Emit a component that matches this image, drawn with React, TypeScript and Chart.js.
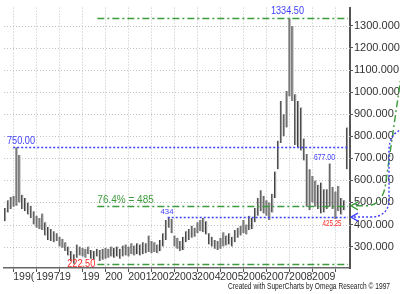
import React, { useEffect, useRef } from 'react';
import { Chart, registerables } from 'chart.js';

Chart.register(...registerables);

// ---------- data ----------
const START_YEAR = 1995.65;
const BAR_STEP = 0.125;

const HIGHS = [
  475, 510, 525, 530, 750, 715, 535, 520, 500, 485,
  460, 440, 430, 450, 410, 390, 380, 370, 360, 345,
  335, 320, 300, 280, 265, 310, 300, 295, 290, 300,
  285, 280, 290, 285, 290, 295, 290, 300, 295, 300,
  290, 305, 310, 300, 315, 305, 315, 310, 320, 315,
  350, 325, 320, 310, 330, 360, 420, 434, 425, 350,
  340, 325, 345, 370, 380, 395, 385, 410, 420, 430,
  415, 360, 345, 330, 325, 340, 365, 350, 360, 345,
  375, 385, 395, 420, 400, 440, 430, 475, 520, 555,
  530, 510, 500, 540, 640, 780, 960, 900, 1005, 1334.5,
  1300, 990, 960, 930, 790, 720, 650, 620, 600, 580,
  590, 560, 560, 677, 570, 550, 575, 520, 510, 840,
];
const LOWS = [
  415, 455, 470, 480, 485, 500, 470, 460, 445, 430,
  400, 385, 380, 375, 350, 330, 325, 320, 325, 300,
  295, 280, 260, 235, 222.5, 250, 260, 255, 250, 265,
  245, 240, 255, 235, 240, 245, 250, 255, 250, 255,
  245, 255, 260, 255, 265, 260, 265, 260, 265, 270,
  275, 270, 275, 270, 280, 300, 330, 385, 360, 300,
  290, 280, 285, 320, 330, 340, 345, 360, 370, 365,
  355, 310, 300, 290, 285, 290, 300, 305, 310, 300,
  320, 340, 350, 360, 355, 375, 380, 410, 440, 460,
  450, 440, 420, 455, 520, 650, 770, 800, 840, 980,
  960, 760, 750, 735, 690, 480, 465, 500, 480, 470,
  450, 455, 470, 480, 470, 425.25, 460, 445, 465, 650,
];

const X_TICKS = [1996, 1997, 1998, 1999, 2000, 2001, 2002, 2003, 2004, 2005, 2006, 2007, 2008, 2009, 2010];
const X_LABELS = ['199(', '1997', '19', '199', '200', '2001', '2002', '2003', '2004', '2005', '2006', '2007', '2008', '2009', ''];
const Y_TICKS = [300, 400, 500, 600, 700, 800, 900, 1000, 1100, 1200, 1300];

// horizontal reference levels
const LEVELS = [1334.5, 750, 485, 434, 222.5];
const LEVEL_START_YEARS = [1999.66, 1996.0, 1999.66, 2002.72, 1999.66];
const LEVEL_KINDS = ['green', 'blue', 'green', 'blue', 'green'];

// text notes
const NOTE_TEXTS = ['1334.50', '750.00', '76.4% = 485', '434', '677.00', '425.25', '222.50'];
const NOTE_VALUES = [1334.5, 750, 485, 434, 677, 425.25, 222.5];
const NOTE_YEARS = [2007.93, 1995.73, 1999.66, 2002.69, 2009.54, 2009.87, 1998.96];

const FOOTER = 'Created with SuperCharts by Omega Research \u00A9 1997';

// ---------- styles ----------
const FONT = "'Liberation Sans', Arial, sans-serif";
const BLUE = '#4040ff';
const GREEN = '#3c9c3c';
const RED = '#ff2828';
const NOTE_STYLE = [
  { color: BLUE, size: 10, maxW: 33, align: 'center', dy: -7.5 },
  { color: BLUE, size: 10, maxW: 28, align: 'left', dy: -6.5 },
  { color: GREEN, size: 10, maxW: 58, align: 'left', dy: -5.5 },
  { color: BLUE, size: 8, maxW: 13, align: 'center', dy: -5.5 },
  { color: BLUE, size: 8.5, maxW: 21, align: 'center', dy: -6 },
  { color: RED, size: 8.5, maxW: 19, align: 'center', dy: 5 },
  { color: RED, size: 10.5, maxW: 28, align: 'center', dy: 0 },
];

function setLevelStyle(ctx: CanvasRenderingContext2D, kind: string) {
  if (kind === 'green') {
    ctx.strokeStyle = GREEN;
    ctx.lineWidth = 1.4;
    ctx.setLineDash([7, 3, 2, 3]);
  } else {
    ctx.strokeStyle = BLUE;
    ctx.lineWidth = 1.4;
    ctx.setLineDash([2, 2]);
  }
}

const overlay = {
  id: 'overlay',
  beforeDatasetsDraw(chart: any) {
    const { ctx, chartArea: a, scales } = chart;
    const x = scales.x, y = scales.y;
    ctx.save();
    ctx.strokeStyle = '#c2c2c2';
    ctx.lineWidth = 1;
    ctx.setLineDash([1, 2]);
    ctx.beginPath();
    X_TICKS.forEach((t) => {
      const px = Math.round(x.getPixelForValue(t)) + 0.5;
      ctx.moveTo(px, a.top);
      ctx.lineTo(px, a.bottom);
    });
    Y_TICKS.forEach((v) => {
      const py = Math.round(y.getPixelForValue(v)) + 0.5;
      ctx.moveTo(a.left, py);
      ctx.lineTo(a.right, py);
    });
    ctx.stroke();
    ctx.restore();
  },
  afterDatasetsDraw(chart: any) {
    const { ctx, chartArea: a, scales } = chart;
    const x = scales.x, y = scales.y;
    ctx.save();
    LEVELS.forEach((v, k) => {
      const py = Math.round(y.getPixelForValue(v)) + 0.5;
      const x0 = x.getPixelForValue(LEVEL_START_YEARS[k]);
      setLevelStyle(ctx, LEVEL_KINDS[k]);
      ctx.beginPath();
      ctx.moveTo(x0, py);
      ctx.lineTo(a.right - 2, py);
      ctx.stroke();
    });
    ctx.setLineDash([]);
    ctx.textBaseline = 'middle';
    NOTE_TEXTS.forEach((txt, k) => {
      const st = NOTE_STYLE[k];
      ctx.fillStyle = st.color;
      ctx.font = `${st.size}px ${FONT}`;
      ctx.textAlign = st.align as CanvasTextAlign;
      const px = x.getPixelForValue(NOTE_YEARS[k]);
      const py = y.getPixelForValue(NOTE_VALUES[k]) + st.dy;
      ctx.fillText(txt, px, py, st.maxW);
    });
    ctx.restore();
  },
  afterDraw(chart: any) {
    const { ctx, chartArea: a, scales } = chart;
    const y = scales.y;
    const R = a.right;
    ctx.save();
    // green curved arrow to 485 level
    const yG = y.getPixelForValue(LEVELS[2]);
    setLevelStyle(ctx, 'green');
    ctx.beginPath();
    ctx.moveTo(R + 54, yG - 150);
    ctx.lineTo(R + 35, yG - 18);
    ctx.quadraticCurveTo(R + 31, yG, R + 16, yG);
    ctx.lineTo(R + 3, yG);
    ctx.stroke();
    ctx.setLineDash([]);
    ctx.beginPath();
    ctx.moveTo(R + 8, yG - 4);
    ctx.lineTo(R + 1, yG);
    ctx.lineTo(R + 8, yG + 4);
    ctx.stroke();
    // blue curved arrow to 434 level
    const yB = y.getPixelForValue(LEVELS[3]);
    setLevelStyle(ctx, 'blue');
    ctx.beginPath();
    ctx.moveTo(R + 53, yB - 88);
    ctx.quadraticCurveTo(R + 39, yB - 84, R + 39, yB - 66);
    ctx.lineTo(R + 39, yB - 18);
    ctx.quadraticCurveTo(R + 39, yB, R + 20, yB);
    ctx.lineTo(R + 3, yB);
    ctx.stroke();
    ctx.setLineDash([]);
    ctx.beginPath();
    ctx.moveTo(R + 8, yB - 4);
    ctx.lineTo(R + 1, yB);
    ctx.lineTo(R + 8, yB + 4);
    ctx.stroke();
    // footer
    ctx.fillStyle = '#222';
    ctx.font = `9px ${FONT}`;
    ctx.textAlign = 'left';
    ctx.textBaseline = 'middle';
    ctx.fillText(FOOTER, 228, 287, 162);
    ctx.restore();
  },
};

export default function App() {
  const ref = useRef<HTMLCanvasElement | null>(null);

  useEffect(() => {
    if (!ref.current) return;
    const chart = new Chart(ref.current, {
      type: 'bar',
      data: {
        datasets: [
          {
            data: HIGHS.map((h, i) => ({ x: START_YEAR + i * BAR_STEP, y: [LOWS[i], h] })) as any,
            backgroundColor: '#9a9a9a',
            borderColor: '#3c3c3c',
            borderWidth: { left: 1, right: 0, top: 0, bottom: 0 },
            borderSkipped: false,
            barThickness: 2,
          },
        ],
      },
      options: {
        animation: false,
        responsive: false,
        events: [],
        layout: { padding: { left: 4, top: 6, right: 0, bottom: 0 } },
        plugins: { legend: { display: false }, tooltip: { enabled: false } },
        scales: {
          x: {
            type: 'linear',
            min: 1995.6,
            max: 2010.65,
            offset: false,
            afterBuildTicks: (s: any) => {
              s.ticks = X_TICKS.map((v) => ({ value: v }));
            },
            afterFit: (s: any) => {
              s.height = 26;
            },
            grid: { drawOnChartArea: false, offset: false, drawTicks: true, tickLength: 4, tickColor: '#555', tickWidth: 1 },
            border: { display: true, color: '#666', width: 1.5 },
            ticks: {
              autoSkip: false,
              maxRotation: 0,
              minRotation: 0,
              align: 'start',
              padding: -1,
              color: '#333',
              font: { family: FONT, size: 10.5 },
              callback: (_v: any, idx: number) => X_LABELS[idx],
            },
          },
          y: {
            position: 'right',
            min: 203,
            max: 1383,
            afterBuildTicks: (s: any) => {
              s.ticks = Y_TICKS.map((v) => ({ value: v }));
            },
            afterFit: (s: any) => {
              s.width = 50;
            },
            grid: { drawOnChartArea: false, drawTicks: true, tickLength: 3, tickColor: '#555' },
            border: { display: true, color: '#555', width: 2 },
            ticks: {
              padding: 1,
              color: '#333',
              font: { family: FONT, size: 11 },
              callback: (v: any) => Number(v).toFixed(3),
            },
          },
        },
      } as any,
      plugins: [overlay],
    });
    return () => chart.destroy();
  }, []);

  return (
    <div style={{ position: 'fixed', left: 0, top: 0, width: 400, height: 294, background: '#fff' }}>
      <canvas ref={ref} width={400} height={294} style={{ display: 'block' }} />
    </div>
  );
}
